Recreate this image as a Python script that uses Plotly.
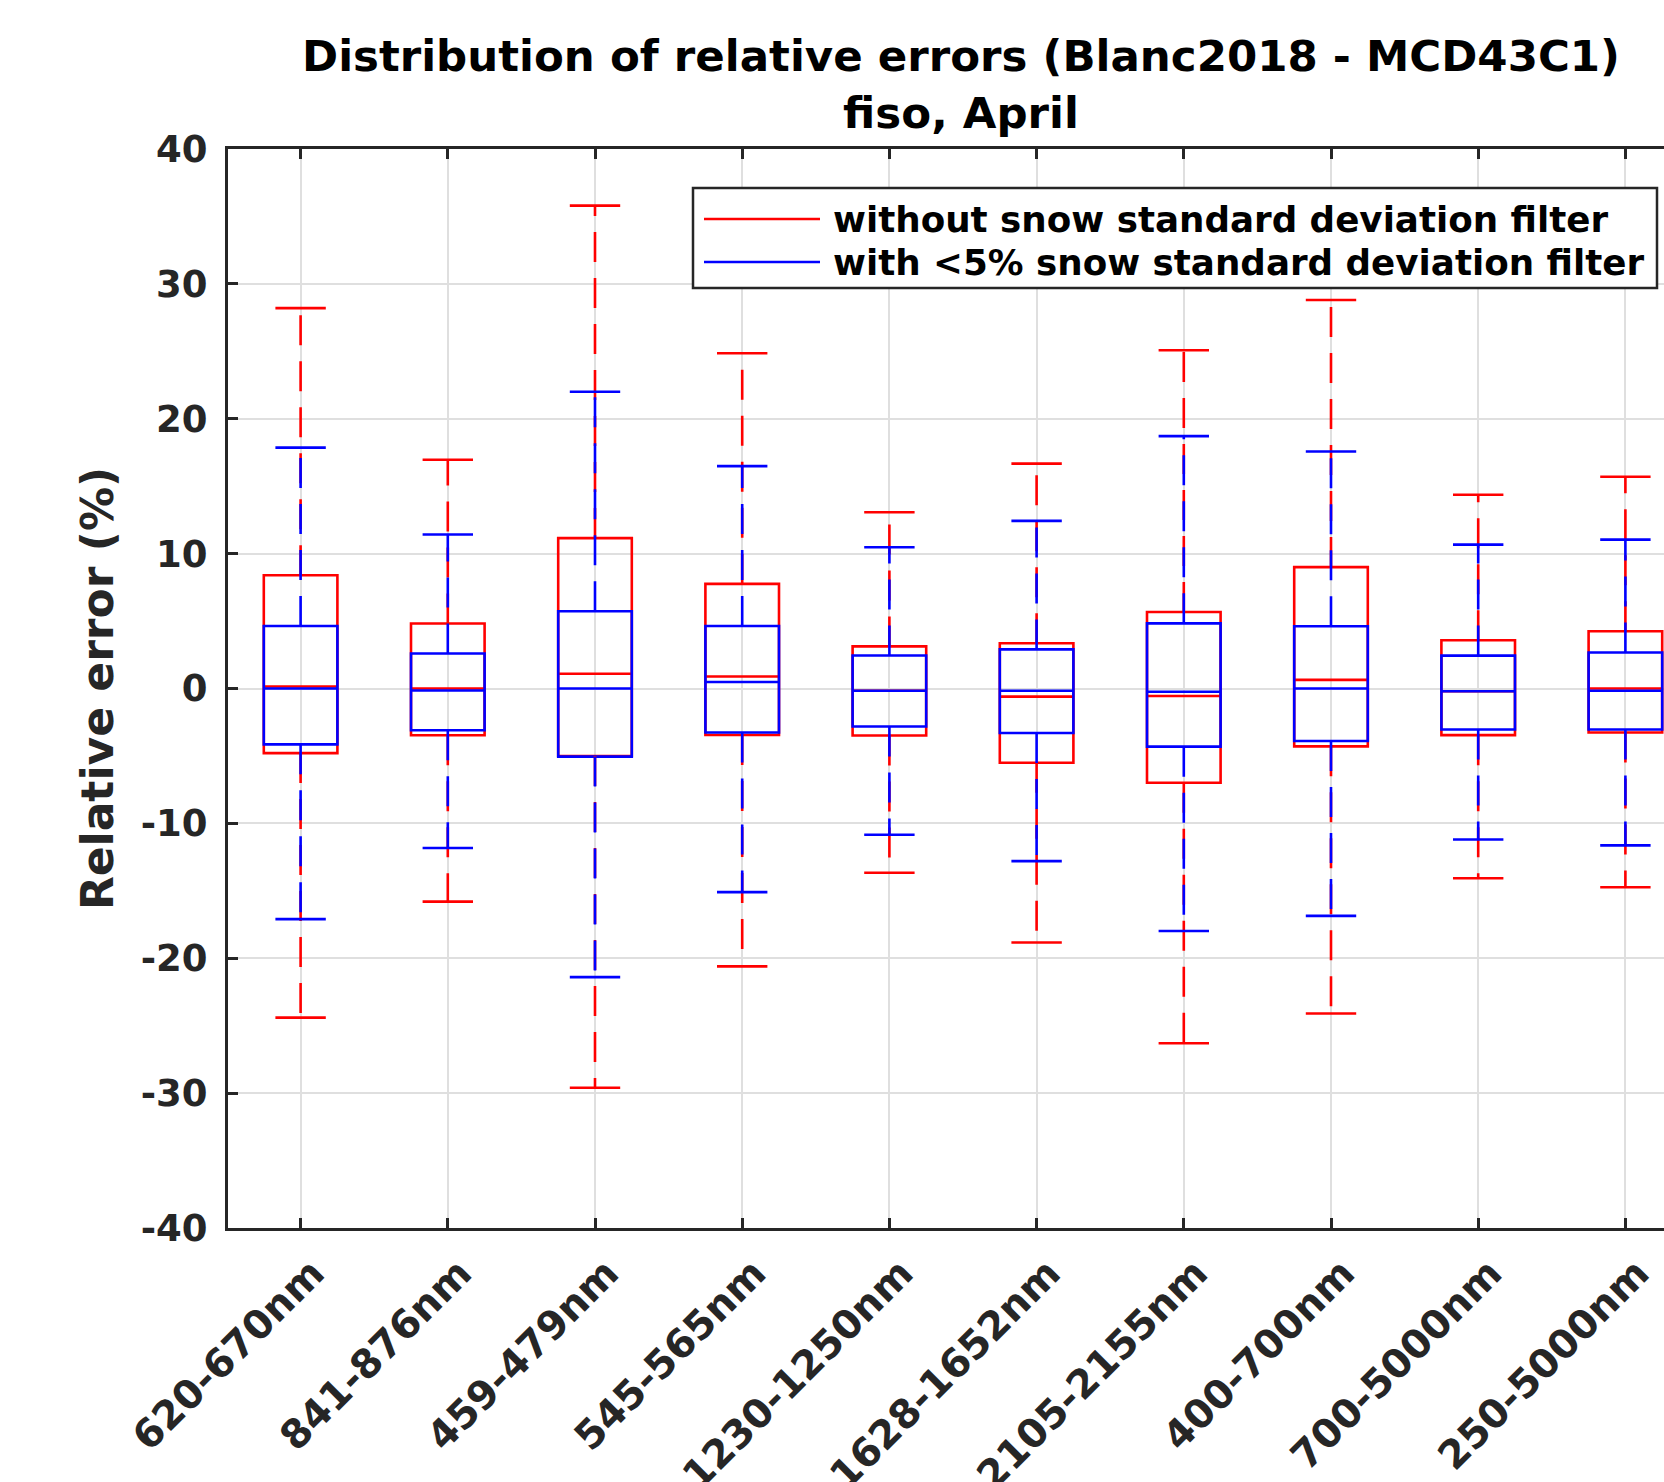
import plotly.graph_objects as go

categories = ["620-670nm", "841-876nm", "459-479nm", "545-565nm", "1230-1250nm",
              "1628-1652nm", "2105-2155nm", "400-700nm", "700-5000nm", "250-5000nm"]

# without snow standard deviation filter (red)
red_upper = [28.2, 16.96, 35.8, 24.86, 13.07, 16.67, 25.08, 28.8, 14.37, 15.7]
red_q3 = [8.4, 4.82, 11.15, 7.76, 3.12, 3.35, 5.67, 9.0, 3.58, 4.25]
red_median = [0.15, 0.0, 1.09, 0.89, -0.17, -0.6, -0.56, 0.64, -0.2, 0.0]
red_q1 = [-4.79, -3.47, -5.0, -3.45, -3.49, -5.51, -6.99, -4.29, -3.46, -3.26]
red_lower = [-24.4, -15.8, -29.6, -20.6, -13.66, -18.83, -26.3, -24.1, -14.07, -14.74]

# with <5% snow standard deviation filter (blue)
blue_upper = [17.86, 11.42, 22.0, 16.49, 10.47, 12.43, 18.71, 17.57, 10.67, 11.04]
blue_q3 = [4.63, 2.6, 5.73, 4.63, 2.45, 2.9, 4.83, 4.61, 2.44, 2.67]
blue_median = [0.0, -0.15, 0.0, 0.48, -0.17, -0.17, -0.24, 0.0, -0.2, -0.17]
blue_q1 = [-4.14, -3.09, -5.05, -3.26, -2.82, -3.3, -4.31, -3.89, -3.04, -3.04]
blue_lower = [-17.1, -11.83, -21.4, -15.1, -10.84, -12.8, -17.98, -16.86, -11.19, -11.63]

series_names = ["without snow standard deviation filter",
                "with <5% snow standard deviation filter"]
series_colors = ["#ff0000", "#0000ff"]

y_tickvals = [-40, -30, -20, -10, 0, 10, 20, 30, 40]
y_ticktext = ["-40", "-30", "-20", "-10", "0", "10", "20", "30", "40"]

FONT = "DejaVu Sans"
AX = "#262626"
GRID = "#dfdfdf"

W, H = 1664, 1482
L, T, B = 228, 149, 1228
CAT_PX = 147.2      # pixels between categories
CAT0_PX = 300.6     # pixel position of first category

fig = go.Figure()

series = [
    (series_colors[0], red_lower, red_q1, red_median, red_q3, red_upper),
    (series_colors[1], blue_lower, blue_q1, blue_median, blue_q3, blue_upper),
]

for color, lo, q1, med, q3, up in series:
    fig.add_trace(go.Box(
        x=categories, q1=q1, median=med, q3=q3, lowerfence=q1, upperfence=q3,
        width=0.5, whiskerwidth=0, fillcolor="rgba(0,0,0,0)",
        line=dict(color=color, width=2.6), showlegend=False, hoverinfo="skip",
    ))

for color, lo, q1, med, q3, up in series:
    wx, wy = [], []
    for c, a, b, d, e in zip(categories, q3, up, q1, lo):
        wx += [c, c, None, c, c, None]
        wy += [a, b, None, d, e, None]
    fig.add_trace(go.Scatter(
        x=wx, y=wy, mode="lines",
        line=dict(color=color, width=2.6, dash="30px,16px"),
        showlegend=False, hoverinfo="skip",
    ))
    fig.add_trace(go.Scatter(
        x=categories + categories, y=up + lo, mode="markers",
        marker=dict(symbol="line-ew", size=36, color=color,
                    line=dict(color=color, width=2.6)),
        showlegend=False, hoverinfo="skip",
    ))


def px_x(p):
    return (p - L) / (W - L)


def px_y(p):
    return (B - p) / (B - T)


# legend box (drawn as in the reference: wide line samples, tight rows)
LEG_L, LEG_R, LEG_T, LEG_B = 693, 1657, 188, 288
row_y = [219, 262]
shapes = [dict(type="rect", xref="paper", yref="paper",
               x0=px_x(LEG_L), x1=px_x(LEG_R), y0=px_y(LEG_B), y1=px_y(LEG_T),
               line=dict(color=AX, width=2.5), fillcolor="white", layer="above")]
annotations = []
for name, color, ry in zip(series_names, series_colors, row_y):
    shapes.append(dict(type="line", xref="paper", yref="paper",
                       x0=px_x(704), x1=px_x(820), y0=px_y(ry), y1=px_y(ry),
                       line=dict(color=color, width=2.6), layer="above"))
    annotations.append(dict(text=name, xref="paper", yref="paper",
                            x=px_x(831), y=px_y(ry + 1), xanchor="left", yanchor="middle",
                            showarrow=False,
                            font=dict(family=FONT, size=35.7, color="#000000", weight="bold")))

fig.update_layout(
    width=W, height=H,
    margin=dict(l=L, r=0, t=T, b=H - B, pad=0, autoexpand=False),
    paper_bgcolor="white", plot_bgcolor="white",
    boxmode="overlay",
    showlegend=False,
    font=dict(family=FONT, color=AX, size=36, weight="bold"),
    title=dict(
        text="Distribution of relative errors (Blanc2018 - MCD43C1)<br>fiso, April",
        font=dict(family=FONT, size=43.5, color="#000000", weight="bold"),
        x=961 / W, xref="container", xanchor="center",
        y=1 - 71 / H, yref="container", yanchor="top",
    ),
    xaxis=dict(
        type="category", categoryorder="array", categoryarray=categories,
        range=[-(CAT0_PX - L) / CAT_PX, (W - CAT0_PX) / CAT_PX],
        showline=True, linecolor=AX, linewidth=3, mirror="ticks",
        ticks="inside", ticklen=10, tickwidth=2.5, tickcolor=AX,
        showgrid=True, gridcolor=GRID, gridwidth=2,
        tickangle=-45, tickfont=dict(family=FONT, size=39.5, color=AX, weight="bold"),
        ticklabelstandoff=3, ticklabelshift=12, zeroline=False,
        automargin=False,
    ),
    yaxis=dict(
        range=[-40, 40], tickvals=y_tickvals, ticktext=y_ticktext,
        showline=True, linecolor=AX, linewidth=3, mirror=False,
        ticks="inside", ticklen=10, tickwidth=2.5, tickcolor=AX,
        showgrid=True, gridcolor=GRID, gridwidth=2, zeroline=False,
        tickfont=dict(family=FONT, size=37, color=AX, weight="bold"),
        ticklabelstandoff=10,
        title=dict(text="Relative error (%)", standoff=14,
                   font=dict(family=FONT, size=44, color=AX, weight="bold")),
        automargin=False,
    ),
    shapes=shapes,
    annotations=annotations,
)

fig.write_html("out.html", config={"displayModeBar": False},
               post_script="document.body.style.margin='0';document.body.style.overflow='hidden';")
